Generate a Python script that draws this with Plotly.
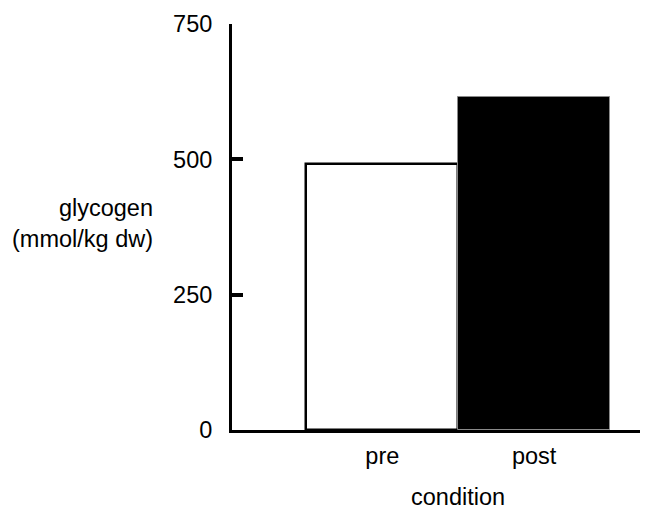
import plotly.graph_objects as go

categories = ["pre", "post"]
glycogen = [491, 616]
fill_colors = ["white", "black"]
line_colors = ["black", "#8a8a8a"]
line_widths = [2.5, 1]
y_ticks = [0, 250, 500, 750]

FONT = "Liberation Sans, Arial, sans-serif"
FS = 23.5

# page body has an 8px margin; size and shift the figure so it fits the window
# and the plot lands where the reference has it
OFF = 8
W, H = 648 - OFF, 509 - OFF
L, T, PW, PH = 232 - OFF, 24 - OFF, 416, 406

fig = go.Figure()
fig.add_trace(go.Bar(
    x=categories, y=glycogen, width=1,
    marker=dict(color=fill_colors, line=dict(color=line_colors, width=line_widths)),
    showlegend=False,
))

fig.update_layout(
    width=W, height=H,
    margin=dict(l=L, r=W - L - PW, t=T, b=H - T - PH, pad=0, autoexpand=False),
    paper_bgcolor="white", plot_bgcolor="white",
    font=dict(family=FONT, size=FS, color="black"),
    bargap=0,
    xaxis=dict(
        range=[-0.99, 1.75], showline=True, linecolor="black", linewidth=2.5,
        ticks="", showgrid=False, zeroline=False, automargin=False,
        tickfont=dict(size=FS, family=FONT, color="black"),
        ticklabelstandoff=3,
    ),
    yaxis=dict(
        range=[0, 750], tickvals=y_ticks, showline=True, linecolor="black", linewidth=3,
        ticks="inside", ticklen=11, tickwidth=3.5, tickcolor="black",
        showgrid=False, zeroline=False, automargin=False,
        tickfont=dict(size=FS, family=FONT, color="black"),
        ticklabelstandoff=12,
    ),
    annotations=[
        dict(text="glycogen<br>(mmol/kg dw)", xref="paper", yref="paper",
             x=-(232 - 155) / PW, y=(430 - 224) / PH, xanchor="right", yanchor="middle",
             align="right", showarrow=False, font=dict(size=FS, family=FONT, color="black")),
        dict(text="condition", xref="x", yref="paper",
             x=0.5, y=(430 - 497) / PH, xanchor="center", yanchor="middle",
             showarrow=False, font=dict(size=FS, family=FONT, color="black")),
    ],
)

fig.write_html("out.html")
